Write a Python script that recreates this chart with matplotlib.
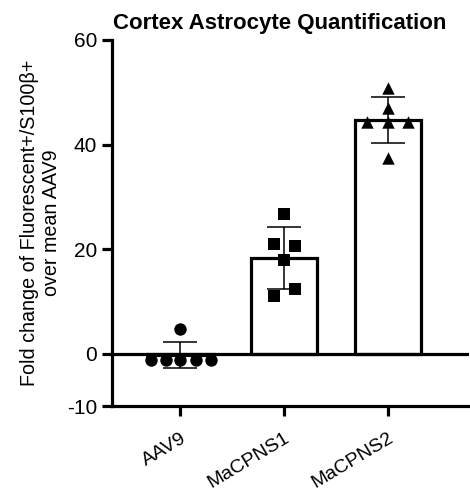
import matplotlib.pyplot as plt
import numpy as np

plt.rcParams['font.family'] = ['Liberation Sans', 'DejaVu Sans']
plt.rcParams['axes.unicode_minus'] = False

groups = ['AAV9', 'MaCPNS1', 'MaCPNS2']
aav9 = [4.8, -1.2, -1.2, -1.2, -1.2, -1.2]
macpns1 = [26.8, 21.0, 20.6, 18.0, 12.4, 11.1]
macpns2 = [50.9, 47.0, 44.4, 44.4, 44.4, 37.5]
values = [aav9, macpns1, macpns2]
markers = ['o', 's', '^']

# horizontal spread of the dots inside each bar
spread = [[0, -0.28, -0.14, 0, 0.15, 0.29],
          [0, -0.10, 0.10, 0, 0.10, -0.10],
          [0, 0, -0.20, 0, 0.19, 0]]

means = [np.mean(v) for v in values]
sds = [np.std(v, ddof=1) for v in values]
x = np.arange(len(groups))

fig = plt.figure(figsize=(4.7, 4.93), dpi=100)
ax = fig.add_axes([0.238, 0.176, 0.76, 0.743])

ax.bar(x, means, width=0.64, color='white', edgecolor='black', linewidth=2.3, zorder=2)
ax.axhline(0, color='black', linewidth=2.3, zorder=3)
ax.errorbar(x, means, yerr=sds, fmt='none', ecolor='black', elinewidth=1.1,
            capsize=12, capthick=1.1, zorder=4)
for i, v in enumerate(values):
    ax.scatter(x[i] + np.array(spread[i]), v, marker=markers[i], s=80,
               color='black', zorder=5, linewidths=0)

ax.set_xlim(-0.66, 2.78)
ax.set_ylim(-10, 60)
ax.set_yticks([-10, 0, 20, 40, 60])
ax.set_xticks(x)
ax.set_xticklabels(groups, rotation=31, ha='right', rotation_mode='anchor', fontsize=14)
ax.tick_params(axis='y', labelsize=15, width=2.3, length=7)
ax.tick_params(axis='x', width=2.3, length=7, pad=10)
for s in ['top', 'right']:
    ax.spines[s].set_visible(False)
for s in ['left', 'bottom']:
    ax.spines[s].set_linewidth(2.3)

ax.set_ylabel('Fold change of Fluorescent+/S100\u03b2+\nover mean AAV9', fontsize=14.2, labelpad=4)
ax.set_title('Cortex Astrocyte Quantification', fontsize=16, fontweight='bold', pad=8, x=0.47)

fig.savefig('out.png', dpi=100)
